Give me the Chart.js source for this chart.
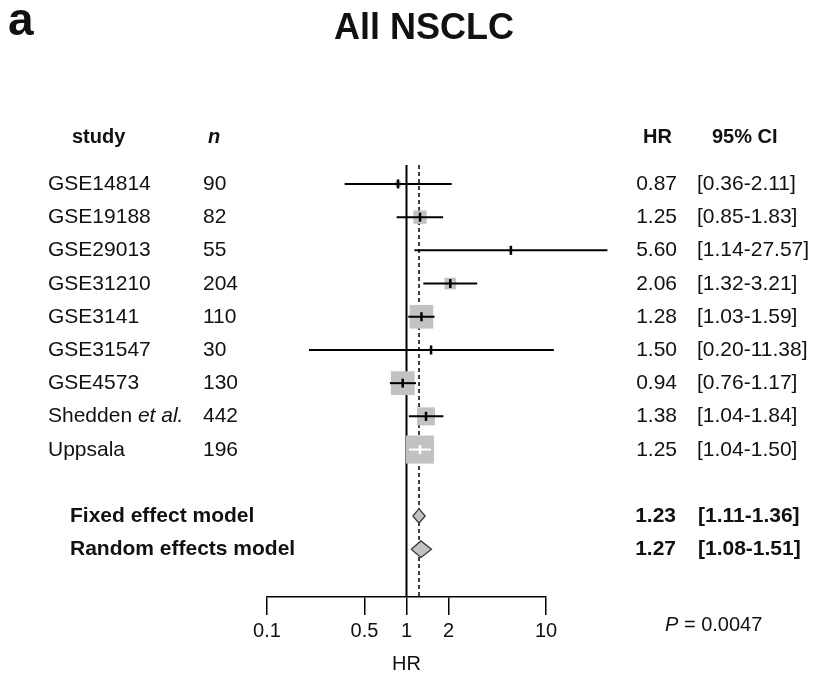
<!DOCTYPE html>
<html>
<head>
<meta charset="utf-8">
<script src="https://cdn.jsdelivr.net/npm/chart.js@4.4.1/dist/chart.umd.min.js"></script>
<style>
  html, body { margin: 0; padding: 0; background: #fff; }
  #wrap { width: 814px; height: 675px; }
</style>
</head>
<body>
<div id="wrap"><canvas id="forest" width="814" height="675"></canvas></div>
<script>
// --- data ---
const studies = ['GSE14814', 'GSE19188', 'GSE29013', 'GSE31210', 'GSE3141', 'GSE31547', 'GSE4573', 'Shedden et al.', 'Uppsala'];
const sampleSizes = [90, 82, 55, 204, 110, 30, 130, 442, 196];
const hazardRatios = [0.87, 1.25, 5.60, 2.06, 1.28, 1.50, 0.94, 1.38, 1.25];
const ciLower = [0.36, 0.85, 1.14, 1.32, 1.03, 0.20, 0.76, 1.04, 1.04];
const ciUpper = [2.11, 1.83, 27.57, 3.21, 1.59, 11.38, 1.17, 1.84, 1.50];
const weights = [1.3, 6.9, 0.4, 5.2, 21.5, 0.2, 21.8, 12.5, 30.3]; // % weight -> box area

const models = ['Fixed effect model', 'Random effects model'];
const modelHR = [1.23, 1.27];
const modelLower = [1.11, 1.08];
const modelUpper = [1.36, 1.51];

const xTicks = [0.1, 0.5, 1, 2, 10];
const pValue = '0.0047';

// --- layout helpers ---
const FONT = '"Liberation Sans", Arial, sans-serif';
const yMin = -0.57, yMax = 12.44;
const modelRow = j => studies.length + 1 + j;
const boxSide = w => 5.1 * Math.sqrt(w);
const fmt = v => v.toFixed(2);

function ciColor(chart, i) {
    const xs = chart.scales.x;
    if (!xs) return '#000';
    const w = xs.getPixelForValue(ciUpper[i]) - xs.getPixelForValue(ciLower[i]);
    return boxSide(weights[i]) > w ? '#fff' : '#000';
}

const datasets = [];

// reference lines: no effect (1) and fixed effect estimate
datasets.push({ data: [{ x: 1, y: yMin }, { x: 1, y: yMax }], showLine: true,
    borderColor: '#000', borderWidth: 2, pointRadius: 0, order: 5 });
datasets.push({ data: [{ x: modelHR[0], y: yMin }, { x: modelHR[0], y: yMax }], showLine: true,
    borderColor: '#000', borderWidth: 1.5, borderDash: [4, 3], pointRadius: 0, order: 5 });

// weight boxes
datasets.push({
    data: studies.map((s, i) => ({ x: hazardRatios[i], y: i })),
    pointStyle: 'rect',
    pointRadius: weights.map(w => boxSide(w) / Math.SQRT2),
    pointBackgroundColor: '#c2c2c2', pointBorderWidth: 0, order: 3
});

// confidence intervals
studies.forEach((s, i) => {
    datasets.push({
        data: [{ x: ciLower[i], y: i }, { x: ciUpper[i], y: i }], showLine: true,
        borderColor: c => ciColor(c.chart, i), borderWidth: 2, pointRadius: 0,
        clip: false, order: 2
    });
});

// point estimate marks
datasets.push({
    data: studies.map((s, i) => ({ x: hazardRatios[i], y: i })),
    pointStyle: 'line', rotation: 90, pointRadius: 4.5, pointBorderWidth: 2.5,
    pointBorderColor: c => ciColor(c.chart, c.dataIndex), order: 1
});

// summary diamonds
models.forEach((m, j) => {
    const r = modelRow(j), h = j === 0 ? 0.22 : 0.25;
    datasets.push({
        data: [
            { x: modelLower[j], y: r }, { x: modelHR[j], y: r - h },
            { x: modelUpper[j], y: r }, { x: modelHR[j], y: r + h },
            { x: modelLower[j], y: r }
        ],
        showLine: true, fill: 'shape', backgroundColor: '#c2c2c2',
        borderColor: '#3a3a3a', borderWidth: 1.3, pointRadius: 0, order: 0
    });
});

// --- all the text columns ---
const textPlugin = {
    id: 'forestText',
    afterDraw(chart) {
        const ctx = chart.ctx, ys = chart.scales.y;
        const font = (size, weight = 'normal', style = 'normal') => `${style} ${weight} ${size}px ${FONT}`;
        ctx.save();
        ctx.fillStyle = '#111';
        ctx.textBaseline = 'alphabetic';

        // panel letter + title
        ctx.textAlign = 'left';
        ctx.font = font(46, 'bold');
        ctx.fillText('a', 8, 35);
        ctx.textAlign = 'center';
        ctx.font = font(36, 'bold');
        ctx.fillText('All NSCLC', 424, 39);

        // headers
        const hy = 143;
        ctx.textAlign = 'left';
        ctx.font = font(20, 'bold');
        ctx.fillText('study', 72, hy);
        ctx.fillText('HR', 643, hy);
        ctx.fillText('95% CI', 712, hy);
        ctx.font = font(20, 'bold', 'italic');
        ctx.fillText('n', 208, hy);

        // study rows
        studies.forEach((s, i) => {
            const y = ys.getPixelForValue(i) + 6;
            ctx.textAlign = 'left';
            ctx.font = font(21);
            if (s.endsWith(' et al.')) {
                const base = s.replace(' et al.', ' ');
                ctx.fillText(base, 48, y);
                const w = ctx.measureText(base).width;
                ctx.font = font(21, 'normal', 'italic');
                ctx.fillText('et al.', 48 + w, y);
                ctx.font = font(21);
            } else {
                ctx.fillText(s, 48, y);
            }
            ctx.fillText(String(sampleSizes[i]), 203, y);
            ctx.fillText('[' + fmt(ciLower[i]) + '-' + fmt(ciUpper[i]) + ']', 697, y);
            ctx.textAlign = 'right';
            ctx.fillText(fmt(hazardRatios[i]), 677, y);
        });

        // model rows
        models.forEach((m, j) => {
            const y = ys.getPixelForValue(modelRow(j)) + 6;
            ctx.font = font(21, 'bold');
            ctx.textAlign = 'left';
            ctx.fillText(m, 70, y);
            ctx.fillText('[' + fmt(modelLower[j]) + '-' + fmt(modelUpper[j]) + ']', 698, y);
            ctx.textAlign = 'right';
            ctx.fillText(fmt(modelHR[j]), 676, y);
        });

        // test p-value
        ctx.textAlign = 'left';
        ctx.font = font(20, 'normal', 'italic');
        ctx.fillText('P', 665, 631);
        const pw = ctx.measureText('P').width;
        ctx.font = font(20);
        ctx.fillText(' = ' + pValue, 665 + pw, 631);
        ctx.restore();
    }
};

new Chart(document.getElementById('forest'), {
    type: 'scatter',
    data: { datasets },
    options: {
        responsive: false,
        animation: false,
        events: [],
        layout: { padding: { left: 267, right: 268, top: 165, bottom: 0 } },
        plugins: { legend: { display: false }, tooltip: { enabled: false } },
        scales: {
            x: {
                type: 'logarithmic', min: 0.1, max: 10,
                afterBuildTicks: s => { s.ticks = xTicks.map(v => ({ value: v })); },
                ticks: { callback: v => String(v), color: '#111', font: { family: FONT, size: 20 },
                         padding: 4, maxRotation: 0, autoSkip: false },
                grid: { drawOnChartArea: false, drawTicks: true, tickLength: 18, color: '#000', lineWidth: 1.5 },
                border: { display: true, color: '#000', width: 1.5 },
                title: { display: true, text: 'HR', color: '#111',
                         font: { family: FONT, size: 20, lineHeight: 1.1 }, padding: { top: 6, bottom: 0 } }
            },
            y: { type: 'linear', reverse: true, min: yMin, max: yMax, display: false }
        }
    },
    plugins: [textPlugin]
});
</script>
</body>
</html>
